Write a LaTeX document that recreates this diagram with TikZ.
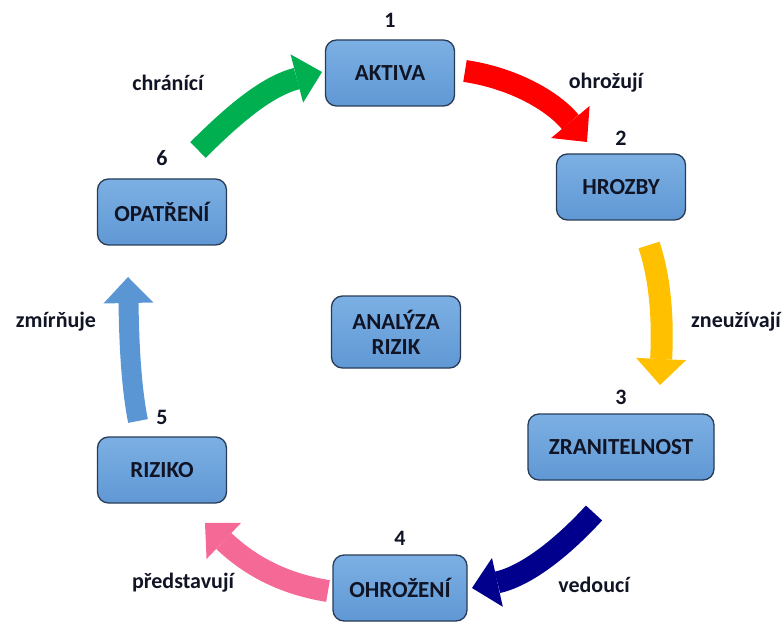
\documentclass[tikz,border=0pt]{standalone}
\usepackage{fontspec}
\setmainfont{Carlito}
\usetikzlibrary{arrows.meta}
\definecolor{boxtop}{RGB}{124,176,228}
\definecolor{boxbot}{RGB}{96,152,212}
\definecolor{boxline}{RGB}{40,60,88}
\definecolor{txt}{RGB}{16,20,36}
\definecolor{cgreen}{RGB}{0,176,80}
\definecolor{cred}{RGB}{255,0,0}
\definecolor{cyellow}{RGB}{255,192,0}
\definecolor{cnavy}{RGB}{0,0,140}
\definecolor{cpink}{RGB}{245,105,150}
\definecolor{cblue}{RGB}{91,150,212}
\begin{document}
\begin{tikzpicture}[x=1pt,y=-1pt,
  box/.style={draw=boxline, line width=1.3pt, rounded corners=11pt,
    top color=boxtop, bottom color=boxbot, text=txt,
    font=\bfseries\fontsize{23}{25}\selectfont, inner sep=0pt, align=center,
    minimum width=129pt, minimum height=66pt},
  lbl/.style={text=txt, font=\bfseries\fontsize{22}{24}\selectfont, inner sep=0pt},
  bigarrow/.style={line width=22pt, -{Triangle[length=26pt,width=50pt,line width=0pt]}}]
\path[use as bounding box] (0,0) rectangle (784,628);

% boxes
\node[box] (aktiva) at (390,73) {AKTIVA};
\node[box] (hrozby) at (621,187) {HROZBY};
\node[box, minimum width=186pt] (zran) at (621,447) {ZRANITELNOST};
\node[box, minimum width=134pt] (ohroz) at (400,588) {OHROŽENÍ};
\node[box] (riziko) at (162,470) {RIZIKO};
\node[box] (opatr) at (162,212) {OPATŘENÍ};
\node[box, minimum height=72pt] (analyza) at (396,332) {ANALÝZA\\RIZIK};

% numbers
\node[lbl] (n1) at (390,20) {1};
\node[lbl] (n2) at (621,138) {2};
\node[lbl] (n3) at (621,397) {3};
\node[lbl] (n4) at (400,538) {4};
\node[lbl] (n5) at (162,417) {5};
\node[lbl] (n6) at (162,158) {6};

% labels
\node[lbl] (l1) at (168,83) {chránící};
\node[lbl] (l2) at (606,83) {ohrožují};
\node[lbl] (l3) at (736,322) {zneužívají};
\node[lbl] (l4) at (594,585) {vedoucí};
\node[lbl] (l5) at (183,583) {představují};
\node[lbl] (l6) at (56,322) {zmírňuje};

% arrow end points
\coordinate (gs) at (198,150); \coordinate (ge) at (322,72);
\coordinate (rs) at (465,71);  \coordinate (re) at (587,142);
\coordinate (ys) at (649,245); \coordinate (ye) at (660,385);
\coordinate (ns) at (594,513); \coordinate (ne) at (472,588);
\coordinate (ps) at (328,591); \coordinate (pe) at (205,523);
\coordinate (bs) at (138,421); \coordinate (be) at (128,277);

% arrows
\draw[bigarrow, cgreen] (gs) .. controls (236,112) and (268,86) .. (ge);
\draw[bigarrow, cred] (rs) .. controls (512,78) and (552,100) .. (re);
\draw[bigarrow, cyellow] (ys) .. controls (664,290) and (662,340) .. (ye);
\draw[bigarrow, cnavy] (ns) .. controls (562,548) and (526,576) .. (ne);
\draw[bigarrow, cpink] (ps) .. controls (284,584) and (250,566) .. (pe);
\draw[bigarrow, cblue, line width=20pt] (bs) .. controls (130,381) and (129,330) .. (be);
\end{tikzpicture}
\end{document}
